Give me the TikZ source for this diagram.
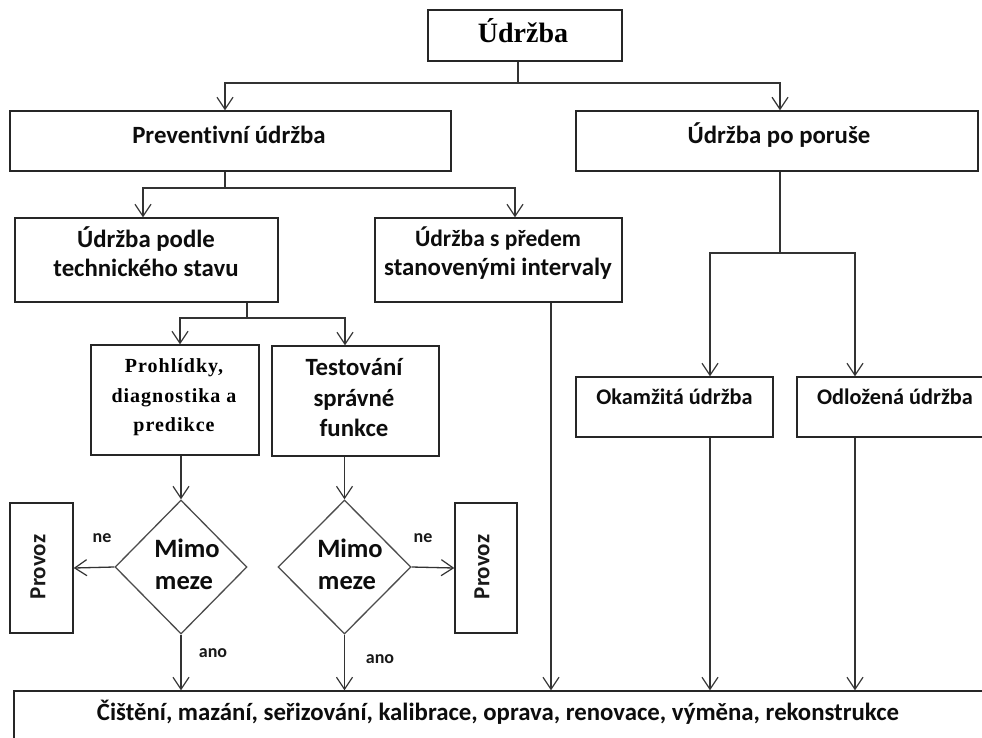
\documentclass[tikz,border=0pt]{standalone}
\usepackage{fontspec}
\setmainfont{Carlito}[Ligatures=NoCommon]
\newfontfamily\tnr{Liberation Serif}
\newfontfamily\tnrsp{Liberation Serif}[LetterSpace=5]
\usetikzlibrary{arrows.meta,shapes.geometric}
\newcommand\fsz[1]{\fontsize{#1}{#1}\selectfont}
\tikzset{
  box/.style={draw=black!85, line width=1.4pt, inner sep=0pt, rectangle},
  dia/.style={draw=black!70, line width=1.3pt, inner sep=0pt, diamond},
  conn/.style={draw=black!80, line width=1.3pt},
  arr/.style={conn, -{Straight Barb[length=12pt,width=16pt,line width=1.2pt]}},
  lbl/.style={font=\fsz{24.8}\bfseries, anchor=base, inner sep=0pt, text=black!95},
  small/.style={font=\fsz{18}\bfseries, anchor=base, inner sep=0pt, text=black!90},
}
\begin{document}
\begin{tikzpicture}[x=1pt,y=-1pt]
\useasboundingbox (0,0) rectangle (982,737);
\clip (0,0) rectangle (982,737);
\fill[white] (0,0) rectangle (982,737);
% boxes
\node[box, minimum width=194pt, minimum height=51pt] (top) at (525,35.5) {};
\node[box, minimum width=441pt, minimum height=60pt] (prev) at (230.5,141) {};
\node[box, minimum width=402pt, minimum height=60pt] (por) at (777,141) {};
\node[box, minimum width=263pt, minimum height=84pt] (podle) at (146.5,260) {};
\node[box, minimum width=247pt, minimum height=84pt] (predem) at (498.5,260) {};
\node[box, minimum width=168pt, minimum height=110pt] (prohl) at (175,400) {};
\node[box, minimum width=167pt, minimum height=110pt] (test) at (355.5,401) {};
\node[box, minimum width=197pt, minimum height=60pt] (okam) at (674.5,407) {};
\node[box, minimum width=201pt, minimum height=60pt] (odloz) at (897.5,407) {};
\node[dia, minimum width=132pt, minimum height=134pt] (d1) at (181,567) {};
\node[dia, minimum width=133pt, minimum height=134pt] (d2) at (344.5,567) {};
\node[box, minimum width=63pt, minimum height=130pt] (provL) at (41.5,568) {};
\node[box, minimum width=62pt, minimum height=130pt] (provR) at (486,568) {};
\node[box, minimum width=986pt, minimum height=69pt] (bot) at (507,725.5) {};
% texts
\node[anchor=base, inner sep=0pt, font=\fsz{28}\tnr\bfseries] (topT) at (523,42) {Údržba};
\node[lbl] (prevT) at (229,143) {Preventivní údržba};
\node[lbl] (porT) at (779,143) {Údržba po poruše};
\node[lbl] (podleT1) at (146,247) {Údržba podle};
\node[lbl] (podleT2) at (146,276) {technického stavu};
\node[lbl, font=\fsz{23.5}\bfseries] (predT1) at (498,246) {Údržba s předem};
\node[lbl] (predT2) at (498,275) {stanovenými intervaly};
\node[anchor=base, inner sep=0pt, font=\fsz{20}\tnrsp\bfseries] (prT1) at (174,372) {Prohlídky,};
\node[anchor=base, inner sep=0pt, font=\fsz{20}\tnrsp\bfseries] (prT2) at (174,402) {diagnostika a};
\node[anchor=base, inner sep=0pt, font=\fsz{20}\tnrsp\bfseries] (prT3) at (174,431) {predikce};
\node[lbl] (teT1) at (354,375) {Testování};
\node[lbl] (teT2) at (354,406) {správné};
\node[lbl] (teT3) at (354,436) {funkce};
\node[lbl, font=\fsz{22.3}\bfseries] (okT) at (674.5,404) {Okamžitá údržba};
\node[lbl, font=\fsz{22.3}\bfseries] (odT) at (895,404) {Odložená údržba};
\node[lbl, font=\fsz{26.5}\bfseries] (m1a) at (187,557) {Mimo};
\node[lbl, font=\fsz{26.5}\bfseries] (m1b) at (184,589) {meze};
\node[lbl, font=\fsz{26.5}\bfseries] (m2a) at (350,557) {Mimo};
\node[lbl, font=\fsz{26.5}\bfseries] (m2b) at (347,589) {meze};
\node[rotate=90, inner sep=0pt, font=\fsz{23}\bfseries, text=black!90] (pLT) at (38,567) {Provoz};
\node[rotate=90, inner sep=0pt, font=\fsz{23}\bfseries, text=black!90] (pRT) at (482,567) {Provoz};
\node[small] (ne1) at (102,542) {ne};
\node[small] (ano1) at (213,657) {ano};
\node[small] (ne2) at (423,542) {ne};
\node[small] (ano2) at (380,663) {ano};
\node[lbl] (botT) at (498,720) {Čištění, mazání, seřizování, kalibrace, oprava, renovace, výměna, rekonstrukce};
% junctions
\coordinate (j1) at (518,83);
\coordinate (j2) at (225,188);
\coordinate (j3) at (780,253);
\coordinate (j4) at (247,318);
% connectors
\draw[conn] ([xshift=-7pt]top.south) -- (j1);
\draw[arr] (j1) -| ([xshift=-5.5pt]prev.north);
\draw[arr] (j1) -| ([xshift=3pt]por.north);
\draw[conn] ([xshift=-5.5pt]prev.south) -- (j2);
\draw[arr] (j2) -| ([xshift=-3.5pt]podle.north);
\draw[arr] (j2) -| ([xshift=16.5pt]predem.north);
\draw[conn] ([xshift=3pt]por.south) -- (j3);
\draw[arr] (j3) -| ([xshift=35.5pt]okam.north);
\draw[arr] (j3) -| ([xshift=-42.5pt]odloz.north);
\draw[conn] ([xshift=100.5pt]podle.south) -- (j4);
\draw[arr] (j4) -| ([xshift=5pt]prohl.north);
\draw[arr] (j4) -| ([xshift=-10.5pt]test.north);
\draw[arr] (d1.north |- prohl.south) -- (d1.north);
\draw[arr] (d2.north |- test.south) -- (d2.north);
\draw[arr] (d1.west) -- (provL.east);
\draw[arr] (d2.east) -- (provR.west);
\draw[arr] (d1.south) -- (d1.south |- bot.north);
\draw[arr] (d2.south) -- (d2.south |- bot.north);
\draw[arr] ([xshift=52.5pt]predem.south) -- ([xshift=52.5pt]predem.south |- bot.north);
\draw[arr] ([xshift=35.5pt]okam.south) -- ([xshift=35.5pt]okam.south |- bot.north);
\draw[arr] ([xshift=-42.5pt]odloz.south) -- ([xshift=-42.5pt]odloz.south |- bot.north);
\end{tikzpicture}
\end{document}
